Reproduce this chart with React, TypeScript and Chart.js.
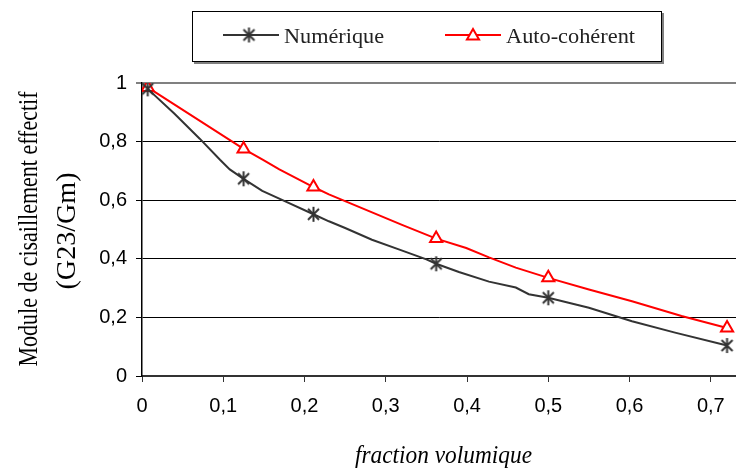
import React, { useEffect, useRef } from 'react';
import { Chart, registerables } from 'chart.js';

Chart.register(...registerables);

// ---- Data ----
const seriesNames = ['Numérique', 'Auto-cohérent'];

const numX = [0.007, 0.04, 0.071, 0.096, 0.108, 0.125, 0.148, 0.175, 0.211, 0.23, 0.25, 0.283, 0.316, 0.35, 0.362, 0.39, 0.427, 0.46, 0.476, 0.5, 0.525, 0.55, 0.603, 0.656, 0.72];
const numY = [0.98, 0.895, 0.81, 0.738, 0.705, 0.673, 0.632, 0.598, 0.552, 0.528, 0.505, 0.465, 0.432, 0.398, 0.383, 0.355, 0.322, 0.302, 0.279, 0.267, 0.25, 0.233, 0.187, 0.148, 0.104];
const numMarker = [1, 0, 0, 0, 0, 1, 0, 0, 1, 0, 0, 0, 0, 0, 1, 0, 0, 0, 0, 1, 0, 0, 0, 0, 1];

const autoX = [0.007, 0.125, 0.149, 0.169, 0.211, 0.23, 0.32, 0.362, 0.399, 0.427, 0.46, 0.5, 0.55, 0.603, 0.664, 0.72];
const autoY = [0.985, 0.775, 0.738, 0.705, 0.645, 0.62, 0.516, 0.469, 0.437, 0.405, 0.37, 0.335, 0.295, 0.255, 0.205, 0.164];
const autoMarker = [1, 1, 0, 0, 1, 0, 0, 1, 0, 0, 0, 1, 0, 0, 0, 1];

const xMin = 0;
const xMax = 0.731;
const xStep = 0.1;
const yMin = 0;
const yMax = 1;
const yStep = 0.2;

const yTitleLines = ['Module de cisaillement effectif', '(G23/Gm)'];
const xTitle = 'fraction volumique';

const fmt = (v: number) => String(Number(v.toFixed(2))).replace('.', ',');

function fittedText(ctx: CanvasRenderingContext2D, text: string, font: string, width: number) {
  ctx.font = font;
  const w = ctx.measureText(text).width;
  ctx.save();
  ctx.scale(width / w, 1);
  ctx.fillText(text, 0, 0);
  ctx.restore();
}

function makeStar(color: string) {
  const c = document.createElement('canvas');
  c.width = 17;
  c.height = 17;
  const s = c.getContext('2d')!;
  s.strokeStyle = color;
  s.lineWidth = 2;
  s.beginPath();
  s.moveTo(8.5, 1);
  s.lineTo(8.5, 16);
  s.moveTo(3, 3);
  s.lineTo(14, 14);
  s.moveTo(14, 3);
  s.lineTo(3, 14);
  s.stroke();
  return c;
}

export default function App() {
  const ref = useRef<HTMLCanvasElement>(null);

  useEffect(() => {
    document.body.style.margin = '0';
    const star = makeStar('#333333');

    const decor = {
      id: 'decor',
      afterDraw(chart: any) {
        const ctx: CanvasRenderingContext2D = chart.ctx;
        ctx.save();
        // Legend box with shadow
        ctx.fillStyle = '#808080';
        ctx.fillRect(194, 62, 470, 2);
        ctx.fillRect(662, 13, 2, 51);
        ctx.fillStyle = '#ffffff';
        ctx.fillRect(192, 11, 470, 51);
        ctx.strokeStyle = '#000';
        ctx.lineWidth = 1;
        ctx.strokeRect(192.5, 11.5, 469, 50);

        // Legend item 1
        ctx.strokeStyle = '#333333';
        ctx.lineWidth = 2;
        ctx.beginPath();
        ctx.moveTo(223, 35);
        ctx.lineTo(279, 35);
        ctx.stroke();
        ctx.drawImage(star, 249 - 8.5, 35 - 8.5);
        ctx.fillStyle = '#222';
        ctx.textBaseline = 'alphabetic';
        ctx.textAlign = 'left';
        ctx.save();
        ctx.translate(284, 43);
        fittedText(ctx, seriesNames[0], '22px "Liberation Serif"', 100);
        ctx.restore();

        // Legend item 2
        ctx.strokeStyle = '#ff0000';
        ctx.lineWidth = 2;
        ctx.beginPath();
        ctx.moveTo(445, 35);
        ctx.lineTo(501, 35);
        ctx.stroke();
        ctx.beginPath();
        const r = 7, cx = 473, cy = 36;
        ctx.moveTo(cx, cy - r);
        ctx.lineTo(cx + r * 0.866, cy + r / 2);
        ctx.lineTo(cx - r * 0.866, cy + r / 2);
        ctx.closePath();
        ctx.fillStyle = '#fff';
        ctx.fill();
        ctx.stroke();
        ctx.fillStyle = '#222';
        ctx.save();
        ctx.translate(506, 43);
        fittedText(ctx, seriesNames[1], '22px "Liberation Serif"', 129);
        ctx.restore();

        // Y title (rotated)
        ctx.fillStyle = '#000';
        ctx.textAlign = 'center';
        ctx.save();
        ctx.translate(37, 229);
        ctx.rotate(-Math.PI / 2);
        fittedText(ctx, yTitleLines[0], '28px "Liberation Serif"', 275);
        ctx.restore();
        ctx.save();
        ctx.translate(75, 231);
        ctx.rotate(-Math.PI / 2);
        fittedText(ctx, yTitleLines[1], '28px "Liberation Serif"', 117);
        ctx.restore();

        // X title
        ctx.save();
        ctx.translate(443.5, 463);
        fittedText(ctx, xTitle, 'italic 26px "Liberation Serif"', 177);
        ctx.restore();

        ctx.restore();
      },
    };

    const chart = new Chart(ref.current!, {
      type: 'scatter',
      data: {
        datasets: [
          {
            label: seriesNames[0],
            data: numX.map((x, i) => ({ x, y: numY[i] })),
            showLine: true,
            borderColor: '#333333',
            borderWidth: 2,
            tension: 0,
            pointStyle: star as any,
            pointRadius: (c: any) => (numMarker[c.dataIndex] ? 8 : 0),
            pointBackgroundColor: '#333333',
            pointBorderColor: '#333333',
          },
          {
            label: seriesNames[1],
            data: autoX.map((x, i) => ({ x, y: autoY[i] })),
            showLine: true,
            borderColor: '#ff0000',
            borderWidth: 2,
            tension: 0,
            pointStyle: 'triangle',
            pointRadius: (c: any) => (autoMarker[c.dataIndex] ? 7 : 0),
            pointBackgroundColor: '#ffffff',
            pointBorderColor: '#ff0000',
            pointBorderWidth: 2,
          },
        ],
      },
      options: {
        animation: false,
        responsive: false,
        devicePixelRatio: 1,
        layout: { autoPadding: false, padding: { top: 83, right: 0, left: 0, bottom: 0 } },
        plugins: {
          legend: { display: false },
          tooltip: { enabled: false },
        },
        scales: {
          x: {
            type: 'linear',
            min: xMin,
            max: xMax,
            ticks: {
              stepSize: xStep,
              includeBounds: false,
              callback: (v: any) => fmt(Number(v)),
              font: { family: '"Liberation Sans"', size: 20 },
              color: '#000',
              padding: 12,
              maxRotation: 0,
            },
            grid: { drawOnChartArea: false, tickLength: 6, color: '#333', lineWidth: 1 },
            border: { color: '#333', width: 2 },
            afterFit: (s: any) => {
              s.height = 96;
              s.paddingLeft = 0;
              s.paddingRight = 0;
            },
          },
          y: {
            min: yMin,
            max: yMax,
            ticks: {
              stepSize: yStep,
              callback: (v: any) => fmt(Number(v)),
              font: { family: '"Liberation Sans"', size: 20 },
              color: '#000',
              padding: 9,
            },
            grid: {
              color: (c: any) => (c.tick && c.tick.value === 1 ? '#808080' : '#000'),
              lineWidth: (c: any) => (c.tick && c.tick.value === 1 ? 2 : 1),
              tickLength: 6,
            },
            border: { color: '#000', width: 1.5 },
            afterFit: (s: any) => {
              s.width = 142;
              s.paddingTop = 0;
              s.paddingBottom = 0;
            },
          },
        },
      },
      plugins: [decor],
    } as any);

    return () => chart.destroy();
  }, []);

  return <canvas ref={ref} width={736} height={472} style={{ display: 'block' }} />;
}
